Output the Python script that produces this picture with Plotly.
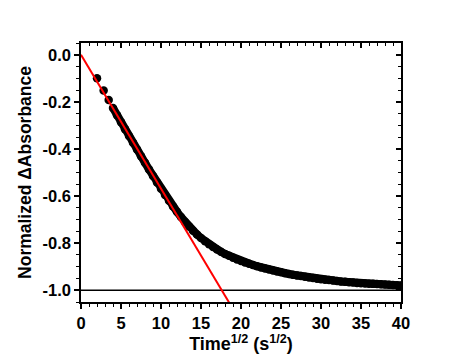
import plotly.graph_objects as go

# Measured data (sqrt time vs normalized delta absorbance)
time_sqrt = [2.0, 2.83, 3.46, 4.0, 4.5, 5.0, 5.5, 6.0, 6.5, 7.0, 7.5, 8.0, 8.5, 9.0, 9.5,
             10.0, 10.5, 11.0, 11.5, 12.0, 12.5, 13.0, 13.5, 14.0, 14.5, 15.0, 15.5, 16.0,
             16.5, 17.0, 17.5, 18.0, 18.5, 19.0, 19.5, 20.0, 20.5, 21.0, 21.5, 22.0, 22.5,
             23.0, 23.5, 24.0, 24.5, 25.0, 25.5, 26.0, 26.5, 27.0, 27.5, 28.0, 28.5, 29.0,
             29.5, 30.0, 30.5, 31.0, 31.5, 32.0, 32.5, 33.0, 33.5, 34.0, 34.5, 35.0, 35.5,
             36.0, 36.5, 37.0, 37.5, 38.0, 38.5, 39.0, 39.5, 40.0]
norm_abs = [-0.100, -0.152, -0.192, -0.226, -0.257, -0.287, -0.316, -0.345, -0.374, -0.402,
            -0.431, -0.459, -0.487, -0.515, -0.542, -0.569, -0.595, -0.620, -0.644, -0.667,
            -0.689, -0.710, -0.729, -0.747, -0.763, -0.778, -0.792, -0.805, -0.816, -0.827,
            -0.837, -0.846, -0.854, -0.862, -0.869, -0.876, -0.882, -0.888, -0.893, -0.898,
            -0.903, -0.908, -0.912, -0.916, -0.920, -0.924, -0.928, -0.931, -0.934, -0.937,
            -0.940, -0.943, -0.946, -0.948, -0.951, -0.953, -0.955, -0.957, -0.959, -0.961,
            -0.963, -0.964, -0.966, -0.967, -0.969, -0.970, -0.971, -0.972, -0.973, -0.974,
            -0.975, -0.976, -0.977, -0.978, -0.979, -0.980]

# Linear fit line (red)
fit_x = [0.0, 19.0]
fit_y = [0.0, -1.08]

# Reference baseline
base_x = [0.0, 40.0]
base_y = [-1.0, -1.0]

x_tick_vals = [0, 5, 10, 15, 20, 25, 30, 35, 40]
x_tick_labels = ["0", "5", "10", "15", "20", "25", "30", "35", "40"]
y_tick_vals = [0.0, -0.2, -0.4, -0.6, -0.8, -1.0]
y_tick_labels = ["0.0", "-0.2", "-0.4", "-0.6", "-0.8", "-1.0"]

FONT = "Liberation Sans, Arial, sans-serif"

fig = go.Figure()
fig.add_trace(go.Scatter(x=base_x, y=base_y, mode="lines",
                         line=dict(color="black", width=1.5), showlegend=False))
# dense data band: continuous part drawn as thick line plus markers
fig.add_trace(go.Scatter(x=time_sqrt[3:], y=norm_abs[3:], mode="lines",
                         line=dict(color="black", width=8), showlegend=False))
fig.add_trace(go.Scatter(x=time_sqrt, y=norm_abs, mode="markers",
                         marker=dict(color="black", size=8.5, line=dict(width=0)),
                         showlegend=False))
fig.add_trace(go.Scatter(x=fit_x, y=fit_y, mode="lines",
                         line=dict(color="#ff0000", width=2), showlegend=False))

common = dict(showgrid=False, zeroline=False, showline=True, linecolor="black",
              linewidth=1.5, tickcolor="black", tickwidth=1.5)

fig.update_layout(
    width=465, height=360,
    margin=dict(l=81, r=64, t=43, b=58),
    paper_bgcolor="white", plot_bgcolor="white",
    font=dict(family=FONT, color="black"),
    xaxis=dict(range=[0, 40], tickvals=x_tick_vals, ticktext=x_tick_labels,
               ticks="outside", ticklen=5,
               minor=dict(dtick=1, ticks="outside", ticklen=3, tickcolor="black", tickwidth=1.2),
               tickfont=dict(size=16.5, family=FONT, weight="bold"),
               title=dict(text="Time<sup>1/2</sup> (s<sup>1/2</sup>)", standoff=4,
                          font=dict(size=18, family=FONT, weight="bold")),
               **common),
    yaxis=dict(range=[-1.05, 0.05], tickvals=y_tick_vals, ticktext=y_tick_labels,
               ticks="outside", ticklen=5,
               minor=dict(dtick=0.05, tick0=0, ticks="outside", ticklen=3, tickcolor="black", tickwidth=1.2),
               tickfont=dict(size=16.5, family=FONT, weight="bold"),
               title=dict(text="Normalized ΔAbsorbance", standoff=6,
                          font=dict(size=17.5, family=FONT, weight="bold")),
               **common),
    xaxis2=dict(range=[0, 40], overlaying="x", side="top", matches="x",
                tickvals=x_tick_vals, showticklabels=False, ticks="inside", ticklen=5,
                minor=dict(dtick=1, ticks="inside", ticklen=3, tickcolor="black", tickwidth=1.2),
                **common),
    yaxis2=dict(range=[-1.05, 0.05], overlaying="y", side="right", matches="y",
                tickvals=y_tick_vals, showticklabels=False, ticks="inside", ticklen=5,
                minor=dict(dtick=0.05, tick0=0, ticks="inside", ticklen=3, tickcolor="black", tickwidth=1.2),
                **common),
)
# invisible trace to activate secondary axes
fig.add_trace(go.Scatter(x=[0], y=[0], xaxis="x2", yaxis="y2", mode="markers",
                         marker=dict(opacity=0), hoverinfo="skip", showlegend=False))

fig.write_html("out.html")
